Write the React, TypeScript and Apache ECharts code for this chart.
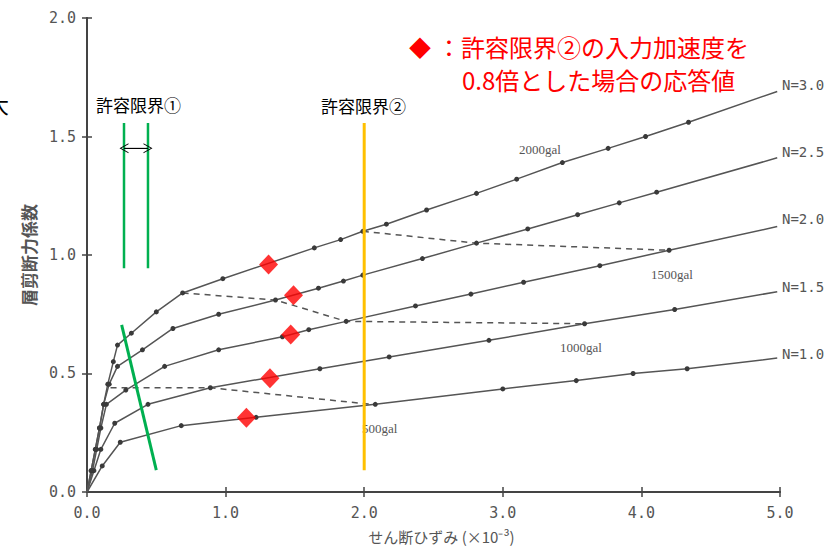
import React, { useEffect, useRef } from "react";
import * as echarts from "echarts";

// ---- data (x: shear strain ×10^-3, y: story shear coefficient) ----
const curveN10: number[][] = [[0, 0], [0.11, 0.11], [0.24, 0.21], [0.68, 0.28], [1.22, 0.315], [2.08, 0.37], [3.0, 0.435], [3.53, 0.47], [3.94, 0.5], [4.33, 0.52], [4.98, 0.565]];
const curveN15: number[][] = [[0, 0], [0.05, 0.09], [0.1, 0.18], [0.2, 0.29], [0.44, 0.37], [0.89, 0.44], [1.68, 0.52], [2.18, 0.57], [2.9, 0.64], [3.59, 0.71], [4.24, 0.77], [4.98, 0.845]];
const curveN20: number[][] = [[0, 0], [0.04, 0.09], [0.07, 0.18], [0.1, 0.27], [0.14, 0.37], [0.28, 0.43], [0.56, 0.53], [0.95, 0.6], [1.41, 0.655], [1.6, 0.685], [1.87, 0.72], [2.37, 0.785], [2.77, 0.835], [3.15, 0.885], [3.7, 0.955], [4.2, 1.02], [4.98, 1.12]];
const curveN25: number[][] = [[0, 0], [0.03, 0.09], [0.06, 0.18], [0.09, 0.27], [0.12, 0.37], [0.16, 0.455], [0.22, 0.53], [0.4, 0.6], [0.62, 0.69], [0.95, 0.75], [1.36, 0.81], [1.67, 0.86], [1.85, 0.89], [1.99, 0.915], [2.42, 0.985], [2.81, 1.05], [3.18, 1.11], [3.54, 1.17], [3.84, 1.22], [4.11, 1.265], [4.98, 1.41]];
const curveN30: number[][] = [[0, 0], [0.03, 0.09], [0.06, 0.18], [0.09, 0.27], [0.12, 0.37], [0.15, 0.455], [0.19, 0.55], [0.22, 0.62], [0.32, 0.67], [0.5, 0.76], [0.69, 0.84], [0.98, 0.9], [1.64, 1.03], [1.83, 1.065], [1.99, 1.1], [2.16, 1.13], [2.45, 1.19], [2.81, 1.26], [3.1, 1.32], [3.43, 1.39], [3.76, 1.45], [4.03, 1.5], [4.34, 1.56], [4.98, 1.69]];

const gal500: number[][] = [[0.17, 0.44], [0.89, 0.44], [2.05, 0.37]];
const gal1000: number[][] = [[0.69, 0.84], [1.36, 0.81], [1.87, 0.72], [3.59, 0.71]];
const gal1500: number[][] = [[1.99, 1.1], [2.81, 1.05], [4.2, 1.02]];

const diamonds: number[][] = [[1.31, 0.96], [1.49, 0.83], [1.47, 0.665], [1.32, 0.48], [1.15, 0.313]];

const limit2Line: number[][] = [[2.0, 0.092], [2.0, 1.557]];
const limit1LineA: number[][] = [[0.267, 0.944], [0.267, 1.557]];
const limit1LineB: number[][] = [[0.44, 0.944], [0.44, 1.557]];
const greenDiag: number[][] = [[0.25, 0.705], [0.5, 0.092]];
const arrowSpan: number[][] = [[0.267, 1.45], [0.44, 1.45]];

const xTickLabels = ["0.0", "1.0", "2.0", "3.0", "4.0", "5.0"];
const yTickLabels = ["0.0", "0.5", "1.0", "1.5", "2.0"];

const nLabels = ["N=3.0", "N=2.5", "N=2.0", "N=1.5", "N=1.0"];
const galLabels = ["2000gal", "1500gal", "1000gal", "500gal"];

const GRAY = "#555";
const MONO = "'DejaVu Sans Mono', monospace";
const JP = "'Noto Sans CJK JP', sans-serif";

function curveSeries(data: number[][]) {
  return {
    type: "line",
    data: data.map((p, i) => ({
      value: p,
      symbol: i === 0 || i === data.length - 1 ? "none" : "circle",
    })),
    symbolSize: 5,
    itemStyle: { color: "#3a3a3a" },
    lineStyle: { color: GRAY, width: 1.5 },
    z: 3,
    silent: true,
  };
}

function dashedSeries(data: number[][]) {
  return {
    type: "line",
    data,
    symbol: "none",
    lineStyle: { color: GRAY, width: 1.5, type: [6, 5] },
    z: 2,
    silent: true,
  };
}

function plainLine(data: number[][], color: string, width: number) {
  return {
    type: "line",
    data,
    symbol: "none",
    lineStyle: { color, width },
    z: 4,
    silent: true,
  };
}

export default function App() {
  const ref = useRef<HTMLDivElement>(null);
  useEffect(() => {
    if (!ref.current) return;
    const chart = echarts.init(ref.current, undefined, { renderer: "svg" });
    const axisLine = { show: true, lineStyle: { color: "#444", width: 2 } };
    const tick = { show: true, inside: true, length: 5, lineStyle: { color: "#444", width: 1.5 } };
    const txt = (text: string, x: number, y: number, font: string, fill: string, align = "left") => ({
      type: "text",
      x,
      y,
      silent: true,
      style: { text, font, fill, textAlign: align, textVerticalAlign: "middle", align, verticalAlign: "middle" },
    });
    chart.setOption({
      animation: false,
      backgroundColor: "#fff",
      grid: { left: 87, top: 18, right: 54, bottom: 52 },
      xAxis: [
        {
          type: "value", min: 0, max: 5, interval: 1, position: "bottom",
          axisLine, axisTick: tick, splitLine: { show: false },
          axisLabel: { formatter: (v: number) => xTickLabels[Math.round(v)], margin: 14, color: GRAY, fontFamily: MONO, fontSize: 15 },
          name: "せん断ひずみ (×10⁻³)", nameLocation: "middle", nameGap: 37,
          nameTextStyle: { color: GRAY, fontFamily: JP, fontSize: 15, padding: [0, 0, 0, 16] },
        },
        {
          type: "value", min: 0, max: 5, interval: 1, position: "top",
          axisLine, axisTick: tick, splitLine: { show: false }, axisLabel: { show: false },
        },
      ],
      yAxis: [
        {
          type: "value", min: 0, max: 2, interval: 0.5, position: "left",
          axisLine, axisTick: tick, splitLine: { show: false },
          axisLabel: { formatter: (v: number) => yTickLabels[Math.round(v * 2)], margin: 11, color: GRAY, fontFamily: MONO, fontSize: 15 },
          name: "層剪断力係数", nameLocation: "middle", nameGap: 50, nameRotate: 90,
          nameTextStyle: { color: GRAY, fontFamily: JP, fontSize: 17, fontWeight: "bold" },
        },
        {
          type: "value", min: 0, max: 2, interval: 0.5, position: "right",
          axisLine, axisTick: tick, splitLine: { show: false }, axisLabel: { show: false },
        },
      ],
      series: [
        curveSeries(curveN10),
        curveSeries(curveN15),
        curveSeries(curveN20),
        curveSeries(curveN25),
        curveSeries(curveN30),
        dashedSeries(gal500),
        dashedSeries(gal1000),
        dashedSeries(gal1500),
        plainLine(limit2Line, "#FFC000", 3),
        plainLine(limit1LineA, "#00B050", 2.5),
        plainLine(limit1LineB, "#00B050", 2.5),
        plainLine(greenDiag, "#00B050", 3),
        {
          type: "line",
          data: arrowSpan,
          symbol: "none",
          lineStyle: { color: "#000", width: 1 },
          silent: true,
          z: 4,
          markLine: {
            silent: true,
            symbol: ["path://M0,0 L5,9 L4,9 L0,1.8 L-4,9 L-5,9 Z", "path://M0,0 L5,9 L4,9 L0,1.8 L-4,9 L-5,9 Z"],
            symbolSize: [10, 9],
            label: { show: false },
            lineStyle: { color: "#000", width: 1, type: "solid" },
            data: [[{ coord: arrowSpan[0] }, { coord: arrowSpan[1] }]],
          },
        },
        {
          type: "scatter",
          data: diamonds,
          symbol: "diamond",
          symbolSize: [19, 20],
          itemStyle: { color: "#FF0000" },
          z: 6,
          silent: true,
        },
      ],
      graphic: [
        txt("大", -13, 103, `22px ${JP}`, "#000"),
        txt("許容限界①", 96, 104, `17px ${JP}`, "#000"),
        txt("許容限界②", 321, 105, `17px ${JP}`, "#000"),
        txt("◆", 409, 46, `22px ${JP}`, "#FF0000"),
        txt("：許容限界②の入力加速度を", 437, 46, `24px ${JP}`, "#FF0000"),
        txt("0.8倍とした場合の応答値", 462, 79, `24px ${JP}`, "#FF0000"),
        txt(nLabels[0], 782, 85, `14px ${MONO}`, GRAY),
        txt(nLabels[1], 782, 152, `14px ${MONO}`, GRAY),
        txt(nLabels[2], 782, 219, `14px ${MONO}`, GRAY),
        txt(nLabels[3], 782, 287, `14px ${MONO}`, GRAY),
        txt(nLabels[4], 782, 354, `14px ${MONO}`, GRAY),
        txt(galLabels[0], 519, 149, `13px 'Liberation Serif', serif`, GRAY),
        txt(galLabels[1], 651, 274, `13px 'Liberation Serif', serif`, GRAY),
        txt(galLabels[2], 560, 347, `13px 'Liberation Serif', serif`, GRAY),
        txt(galLabels[3], 362, 428, `13px 'Liberation Serif', serif`, GRAY),
      ],
    });
    return () => chart.dispose();
  }, []);
  return (
    <div
      ref={ref}
      style={{ position: "fixed", left: 0, top: 0, width: 834, height: 549, background: "#fff" }}
    />
  );
}
